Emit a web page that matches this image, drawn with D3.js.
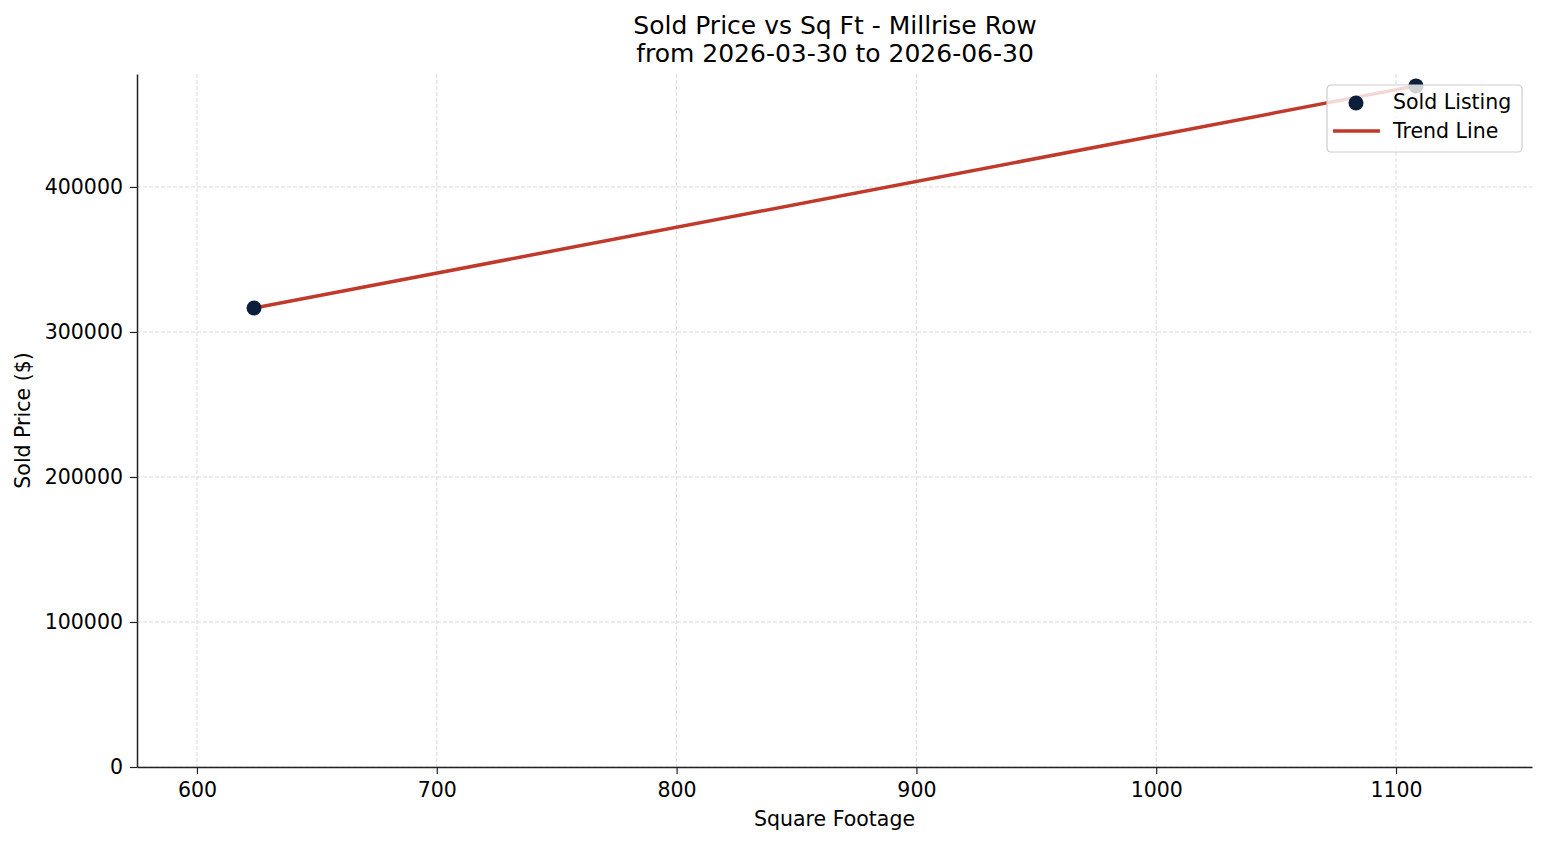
<!DOCTYPE html>
<html>
<head>
<meta charset="utf-8">
<script src="https://cdn.jsdelivr.net/npm/d3@7"></script>
<style>
  body { margin: 0; background: #fff; }
  text { font-family: "DejaVu Sans", sans-serif; fill: #000; }
</style>
</head>
<body>
<script>
// data
const sqft = [623.8, 1108.3];
const price = [316500, 469700];
const trendX = [623.8, 1108.3];
const trendY = [316500, 469700];
const xTicks = [600, 700, 800, 900, 1000, 1100];
const yTicks = [0, 100000, 200000, 300000, 400000];
const titleLines = ["Sold Price vs Sq Ft - Millrise Row", "from 2026-03-30 to 2026-06-30"];

const W = 1547, H = 845;
const margin = { top: 74, right: 15, bottom: 78, left: 137 };
const width = W - margin.left - margin.right,
    height = H - margin.top - margin.bottom;

const svg = d3.select("body").append("svg")
    .attr("width", W)
    .attr("height", H);

const g = svg.append("g")
    .attr("transform", "translate(" + margin.left + "," + margin.top + ")");

const x = d3.scaleLinear().domain([575, 1156.7]).range([0, width]);
const y = d3.scaleLinear().domain([0, 477900]).range([height, 0]);

// grid
g.append("g").selectAll("line")
    .data(xTicks).enter().append("line")
    .attr("x1", d => x(d)).attr("x2", d => x(d))
    .attr("y1", 0).attr("y2", height)
    .attr("stroke", "#d0d0d0").attr("stroke-width", 0.8)
    .attr("stroke-dasharray", "4,2");
g.append("g").selectAll("line")
    .data(yTicks).enter().append("line")
    .attr("x1", 0).attr("x2", width)
    .attr("y1", d => y(d)).attr("y2", d => y(d))
    .attr("stroke", "#d0d0d0").attr("stroke-width", 0.8)
    .attr("stroke-dasharray", "4,2");

// axes
const xAxis = g.append("g")
    .attr("transform", "translate(0," + height + ")")
    .call(d3.axisBottom(x).tickValues(xTicks).tickSize(7).tickPadding(8).tickSizeOuter(0)
        .tickFormat(d3.format("d")));
const yAxis = g.append("g")
    .call(d3.axisLeft(y).tickValues(yTicks).tickSize(7).tickPadding(7).tickSizeOuter(0)
        .tickFormat(d3.format("d")));
[xAxis, yAxis].forEach(a => {
    a.attr("font-size", null).attr("font-family", null);
    a.select(".domain").attr("stroke", "#222").attr("stroke-width", 1.5);
    a.selectAll(".tick line").attr("stroke", "#222").attr("stroke-width", 1.2);
    a.selectAll(".tick text").style("font-size", "20.5px").attr("fill", "#000");
});

// trend line
g.append("path")
    .datum(trendX.map((d, i) => [d, trendY[i]]))
    .attr("d", d3.line().x(d => x(d[0])).y(d => y(d[1])))
    .attr("fill", "none")
    .attr("stroke", "#c0392b")
    .attr("stroke-width", 3.5);

// points
g.append("g").selectAll("circle")
    .data(sqft).enter().append("circle")
    .attr("cx", d => x(d))
    .attr("cy", (d, i) => y(price[i]))
    .attr("r", 7.5)
    .attr("fill", "#0b1f3a");

// titles
svg.append("text")
    .attr("x", 835).attr("y", 34)
    .attr("text-anchor", "middle").style("font-size", "25px")
    .text(titleLines[0]);
svg.append("text")
    .attr("x", 835).attr("y", 62)
    .attr("text-anchor", "middle").style("font-size", "25px")
    .text(titleLines[1]);

svg.append("text")
    .attr("x", margin.left + width / 2).attr("y", 826)
    .attr("text-anchor", "middle").style("font-size", "20.5px")
    .text("Square Footage");
svg.append("text")
    .attr("transform", "translate(30," + (margin.top + height / 2) + ") rotate(-90)")
    .attr("text-anchor", "middle").style("font-size", "20.5px")
    .text("Sold Price ($)");

// legend
const lg = svg.append("g").attr("transform", "translate(1327,85)");
lg.append("rect")
    .attr("width", 195).attr("height", 67).attr("rx", 4)
    .attr("fill", "#fff").attr("fill-opacity", 0.8)
    .attr("stroke", "#ccc").attr("stroke-width", 1.2);
lg.append("circle").attr("cx", 29).attr("cy", 18).attr("r", 7.5).attr("fill", "#0b1f3a");
lg.append("line").attr("x1", 6).attr("x2", 53).attr("y1", 46).attr("y2", 46)
    .attr("stroke", "#c0392b").attr("stroke-width", 3.5);
lg.append("text").attr("x", 66).attr("y", 24).style("font-size", "20.5px").text("Sold Listing");
lg.append("text").attr("x", 66).attr("y", 53).style("font-size", "20.5px").text("Trend Line");
</script>
</body>
</html>
